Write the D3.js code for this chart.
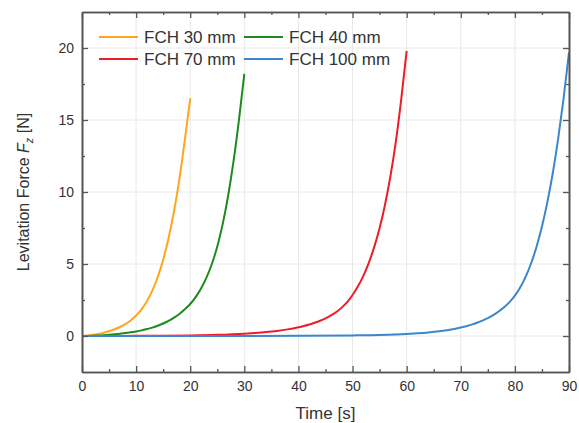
<!DOCTYPE html>
<html><head><meta charset="utf-8">
<script src="https://cdn.jsdelivr.net/npm/d3@7"></script>
<style>body{margin:0;background:#fff}svg{display:block;font-family:"Liberation Sans",Arial,sans-serif}</style>
</head><body><svg id="c" width="579" height="423"></svg>
<script>
const seriesNames = ["FCH 30 mm","FCH 40 mm","FCH 70 mm","FCH 100 mm"];
const seriesColors = ["#ffa61a","#1e8a1e","#ee1c25","#3b86cc"];
const t30 = [0,1,2,3,4,5,6,7,8,9,10,11,12,13,14,15,16,17,18,19,20];
const f30 = [0,0.03,0.08,0.145,0.23,0.335,0.465,0.625,0.825,1.08,1.42,1.85,2.42,3.15,4.1,5.3,6.8,8.65,10.9,13.6,16.5];
const t40 = [0,1,2,3,4,5,6,7,8,9,10,11,12,13,14,15,16,17,18,19,20,21,22,23,24,25,26,27,28,29,30];
const f40 = [0,0.005,0.015,0.03,0.055,0.085,0.12,0.16,0.21,0.26,0.32,0.39,0.48,0.58,0.71,0.87,1.05,1.27,1.53,1.85,2.22,2.7,3.3,4.05,5.0,6.22,7.77,9.72,12.12,14.97,18.2];
const t70 = [0,5,10,15,20,25,30,32,34,36,38,40,41,42,43,44,45,46,47,48,49,50,51,52,53,54,55,56,57,58,59,60];
const f70 = [0,0.004,0.01,0.02,0.04,0.08,0.16,0.21,0.27,0.35,0.46,0.61,0.7,0.8,0.92,1.06,1.23,1.43,1.67,1.97,2.35,2.85,3.45,4.18,5.08,6.17,7.5,9.12,11.1,13.5,16.45,19.8];
const t100 = [0,10,20,30,40,50,55,60,62,64,66,68,70,71,72,73,74,75,76,77,78,79,80,81,82,83,84,85,86,87,88,89,90];
const f100 = [0,0,0,0.005,0.015,0.04,0.07,0.14,0.19,0.25,0.33,0.44,0.59,0.68,0.79,0.92,1.07,1.24,1.45,1.7,1.99,2.35,2.8,3.38,4.12,5.05,6.2,7.6,9.3,11.3,13.7,16.5,19.7];
const xTicks = [0,10,20,30,40,50,60,70,80,90];
const xMinor = [5,15,25,35,45,55,65,75,85];
const yTicks = [0,5,10,15,20];
const yMinor = [2.5,7.5,12.5,17.5];

const times = [t30,t40,t70,t100], forces = [f30,f40,f70,f100];
const svg = d3.select("#c");
const L=82,R=569,T=12,B=372;
const x = d3.scaleLinear().domain([0,90]).range([L,R]);
const y = d3.scaleLinear().domain([-2.5,22.5]).range([B,T]);
const axCol="#555", txtCol="#333";

// grid
const g = svg.append("g");
g.selectAll(".gx").data(xTicks.slice(1,-1)).join("line").attr("x1",d=>x(d)).attr("x2",d=>x(d)).attr("y1",T).attr("y2",B).attr("stroke","#e8e8e8").attr("stroke-width",1);
g.selectAll(".gy").data(yTicks).join("line").attr("y1",d=>y(d)).attr("y2",d=>y(d)).attr("x1",L).attr("x2",R).attr("stroke","#e8e8e8").attr("stroke-width",1);

// lines
const line = d3.line().curve(d3.curveMonotoneX);
seriesNames.forEach((n,i)=>{
  const pts = times[i].map((t,j)=>[x(t),y(forces[i][j])]);
  svg.append("path").attr("d",line(pts)).attr("fill","none").attr("stroke",seriesColors[i]).attr("stroke-width",2);
});

// axes
function ax(axisGen, tr){
  const a = svg.append("g").attr("transform",tr).call(axisGen);
  a.select(".domain").attr("stroke",axCol).attr("stroke-width",1.6);
  a.selectAll(".tick line").attr("stroke",axCol).attr("stroke-width",1.3);
  a.selectAll("text").attr("fill",txtCol).style("font-size","14px").style("font-family","Liberation Sans, Arial, sans-serif");
  return a;
}
ax(d3.axisBottom(x).tickValues(xTicks).tickSizeInner(-6).tickSizeOuter(0).tickPadding(9).tickFormat(d3.format("d")),`translate(0,${B})`);
ax(d3.axisBottom(x).tickValues(xMinor).tickSizeInner(-3).tickSizeOuter(0).tickFormat(""),`translate(0,${B})`);
ax(d3.axisTop(x).tickValues(xTicks).tickSizeInner(-6).tickSizeOuter(0).tickFormat(""),`translate(0,${T})`);
ax(d3.axisTop(x).tickValues(xMinor).tickSizeInner(-3).tickSizeOuter(0).tickFormat(""),`translate(0,${T})`);
ax(d3.axisLeft(y).tickValues(yTicks).tickSizeInner(-6).tickSizeOuter(0).tickPadding(8).tickFormat(d3.format("d")),`translate(${L},0)`);
ax(d3.axisLeft(y).tickValues(yMinor).tickSizeInner(-3).tickSizeOuter(0).tickFormat(""),`translate(${L},0)`);
ax(d3.axisRight(y).tickValues(yTicks).tickSizeInner(-6).tickSizeOuter(0).tickFormat(""),`translate(${R},0)`);
ax(d3.axisRight(y).tickValues(yMinor).tickSizeInner(-3).tickSizeOuter(0).tickFormat(""),`translate(${R},0)`);

// titles
svg.append("text").attr("x",(L+R)/2).attr("y",419).attr("text-anchor","middle").attr("fill",txtCol).style("font-size","17px").text("Time [s]");
const yt = svg.append("text").attr("transform",`translate(29,${(T+B)/2}) rotate(-90)`).attr("text-anchor","middle").attr("fill",txtCol).style("font-size","16px");
yt.append("tspan").text("Levitation Force ");
yt.append("tspan").style("font-style","italic").text("F");
yt.append("tspan").attr("dy",4).style("font-size","11px").style("font-style","italic").text("z");
yt.append("tspan").attr("dy",-4).text(" [N]");

// legend
const legX=[99,244], legY=[37,59];
seriesNames.forEach((n,i)=>{
  const cx=legX[i%2], cy=legY[Math.floor(i/2)];
  svg.append("line").attr("x1",cx).attr("x2",cx+39).attr("y1",cy).attr("y2",cy).attr("stroke",seriesColors[i]).attr("stroke-width",2);
  svg.append("text").attr("x",cx+45).attr("y",cy+6).attr("fill",txtCol).style("font-size","17px").text(n);
});
</script></body></html>
